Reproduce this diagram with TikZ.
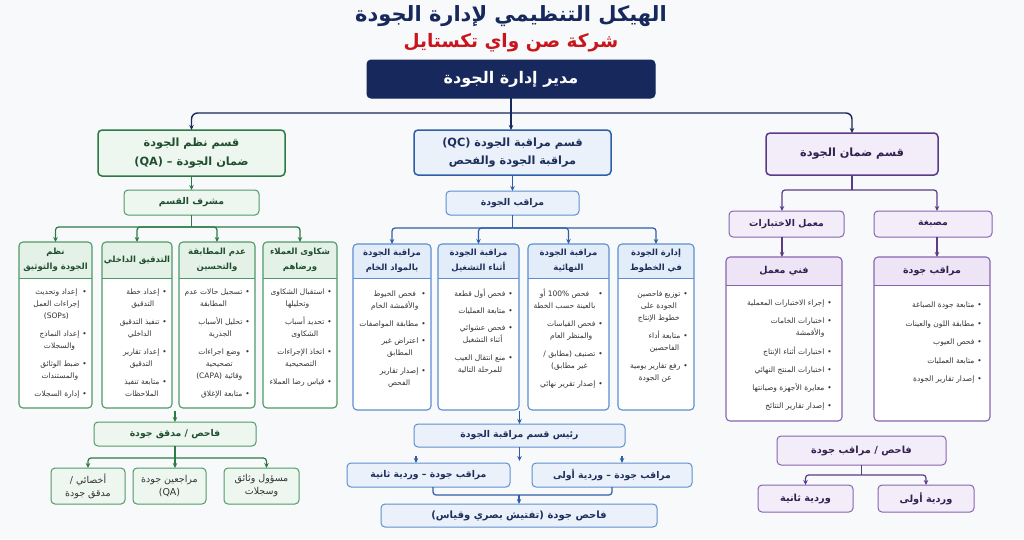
\documentclass[tikz,border=0pt]{standalone}
\usepackage{fontspec}
\setmainfont{DejaVu Sans}
\newfontfamily\ar[Script=Arabic]{DejaVu Sans}
\TeXXeTstate=1
\usetikzlibrary{arrows.meta,calc}
\definecolor{bg}{HTML}{F8F9FB}
\definecolor{navy}{HTML}{17295C}
\definecolor{subred}{HTML}{C8161D}
\definecolor{gline}{HTML}{4F9A66}
\definecolor{gdark}{HTML}{2D7A45}
\definecolor{ghdr}{HTML}{E4F1E7}
\definecolor{gfill}{HTML}{EEF6F0}
\definecolor{gtext}{HTML}{1F4F2E}
\definecolor{bline}{HTML}{5D8FD0}
\definecolor{bdark}{HTML}{2F5EA8}
\definecolor{bhdr}{HTML}{E3ECF9}
\definecolor{bfill}{HTML}{EBF1FB}
\definecolor{btext}{HTML}{1C2F5A}
\definecolor{pline}{HTML}{8A63B0}
\definecolor{pdark}{HTML}{5B3B86}
\definecolor{phdr}{HTML}{EDE4F6}
\definecolor{pfill}{HTML}{F3EDF9}
\definecolor{ptext}{HTML}{33204F}
\definecolor{body}{HTML}{333333}
\newcommand\RL[1]{\beginR #1\endR}
\newcommand\bi[1]{\begin{tabular}[t]{@{}c@{}}#1\end{tabular}\hspace{3pt}\textbullet}
\newcommand\bir[1]{\begin{tabular}[t]{@{}r@{}}#1\end{tabular}\hspace{3pt}\textbullet}
\newcommand\pbig{\fontsize{9.5}{14}\selectfont}
% column box: name, x1, y1, x2, y2, yh, theme letter, header
\newcommand\colbox[8]{%
  \fill[white, rounded corners=4pt] (#2,#3) rectangle (#4,#5);
  \begin{scope}\clip (#2,#3) rectangle (#4,#6);
    \fill[#7hdr, rounded corners=4pt] (#2,#3) rectangle (#4,#5);
  \end{scope}
  \node[draw=#7line, line width=1.1pt, rounded corners=4pt, inner sep=0pt, outer sep=0pt,
        anchor=north west, minimum width={(#4-#2)*1pt}, minimum height={(#5-#3)*1pt}] (#1) at (#2,#3) {};
  \draw[#7line, line width=0.9pt] (#2,#6) -- (#4,#6);
  \node[font=\ar\bfseries\fontsize{8.5}{15}\selectfont, text=#7text, align=center, inner sep=0pt] (#1-h) at ({(#2+#4)/2},{(#3+#6)/2}) {#8};
}
% simple box: style, name, x1, y1, x2, y2, text
\newcommand\bx[7]{%
  \node[#1, minimum width={(#5-#3)*1pt}, minimum height={(#6-#4)*1pt}] (#2) at ({(#3+#5)/2},{(#4+#6)/2}) {#7};
}
\tikzset{
  box/.style={draw, rounded corners=4pt, inner sep=0pt, outer sep=0pt, align=center, line width=1pt},
  topbox/.style={box, fill=navy, draw=navy, text=white, font=\ar\bfseries\fontsize{16}{19}\selectfont},
  dept/.style={box, line width=1.5pt, font=\ar\bfseries\fontsize{11.3}{18.5}\selectfont},
  gdept/.style={dept, fill=gfill, draw=gdark, text=gtext},
  bdept/.style={dept, fill=bfill, draw=bdark, text=btext},
  pdept/.style={dept, fill=pfill, draw=pdark, text=ptext},
  gbox/.style={box, fill=gfill, draw=gline, text=gtext, font=\ar\bfseries\fontsize{9.3}{13}\selectfont},
  bbox/.style={box, fill=bfill, draw=bline, text=btext, font=\ar\bfseries\fontsize{9.3}{13}\selectfont},
  pbox/.style={box, fill=pfill, draw=pline, text=ptext, font=\ar\bfseries\fontsize{9.3}{13}\selectfont},
  gleaf/.style={gbox, font=\ar\fontsize{9.5}{13}\selectfont, text=body},
  bodytext/.style={anchor=north east, align=right, inner sep=0pt, text=body, font=\ar\fontsize{7.5}{12}\selectfont},
  conn/.style={line width=1.2pt, rounded corners=3pt},
  tip/.style={-{Stealth[length=5pt,width=4.5pt]}},
  nconn/.style={conn, draw=navy, line width=1.4pt, rounded corners=6pt},
  gconn/.style={conn, draw=gdark},
  bconn/.style={conn, draw=bdark},
  pconn/.style={conn, draw=pdark},
}
\begin{document}
\begin{tikzpicture}[x=1pt, y=-1pt]
\useasboundingbox (0,0) rectangle (1024,539);
\fill[bg] (0,0) rectangle (1024,539);

% titles
\node[font=\ar\bfseries\fontsize{21}{24}\selectfont, text=navy] (title) at (511,16) {\RL{الهيكل التنظيمي لإدارة الجودة}};
\node[font=\ar\bfseries\fontsize{18.5}{22}\selectfont, text=subred] (subtitle) at (511,43) {\RL{شركة صن واي تكستايل}};
\bx{topbox}{top}{367}{60}{655}{98}{\RL{مدير إدارة الجودة}}

% departments
\bx{gdept}{qa}{98}{130}{285}{176}{\RL{قسم نظم الجودة}\\\RL{ضمان الجودة – (QA)}}
\bx{bdept}{qc}{414}{130}{611}{175}{\RL{قسم مراقبة الجودة (QC)}\\\RL{مراقبة الجودة والفحص}}
\bx{pdept}{pd}{766}{133}{938}{175}{\RL{قسم ضمان الجودة}}

\coordinate (j0) at (511,113);
\draw[nconn] (top.south) -- (j0);
\draw[nconn, tip] (j0) -| (qa.north);
\draw[nconn, tip] (j0) -| (pd.north);
\draw[nconn, tip] (j0) -- (j0 |- qc.north);

% ===== green (QA) =====
\bx{gbox}{sup}{124}{190}{259}{215}{\RL{مشرف القسم}}
\draw[gconn, tip] (qa.south) -- (sup.north);
\colbox{g1}{19}{242}{92}{408}{278}{g}{\RL{نظم}\\\RL{الجودة والتوثيق}}
\colbox{g2}{102}{242}{172}{408}{278}{g}{\RL{التدقيق الداخلي}}
\colbox{g3}{179}{242}{255}{408}{278}{g}{\RL{عدم المطابقة}\\\RL{والتحسين}}
\colbox{g4}{263}{242}{337}{408}{278}{g}{\RL{شكاوى العملاء}\\\RL{ورضاهم}}
\coordinate (jg1) at (191.5,227);
\draw[gconn] (sup.south) -- (jg1);
\draw[gconn, tip] (jg1) -| (g1.north);
\draw[gconn, tip] (jg1) -| (g2.north);
\draw[gconn, tip] (jg1) -| (g3.north);
\draw[gconn, tip] (jg1) -| (g4.north);

\node[bodytext] (g1-b) at (87,286) {\bi{\RL{إعداد وتحديث}\\\RL{إجراءات العمل}\\(SOPs)}\\[5pt]
  \bi{\RL{إعداد النماذج}\\\RL{والسجلات}}\\[5pt]
  \bi{\RL{ضبط الوثائق}\\\RL{والمستندات}}\\[5pt]
  \bi{\RL{إدارة السجلات}}};
\node[bodytext] (g2-b) at (167,286) {\bi{\RL{إعداد خطة}\\\RL{التدقيق}}\\[5pt]
  \bi{\RL{تنفيذ التدقيق}\\\RL{الداخلي}}\\[5pt]
  \bi{\RL{إعداد تقارير}\\\RL{التدقيق}}\\[5pt]
  \bi{\RL{متابعة تنفيذ}\\\RL{الملاحظات}}};
\node[bodytext] (g3-b) at (250,286) {\bi{\RL{تسجيل حالات عدم}\\\RL{المطابقة}}\\[5pt]
  \bi{\RL{تحليل الأسباب}\\\RL{الجذرية}}\\[5pt]
  \bi{\RL{وضع اجراءات}\\\RL{تصحيحية}\\\RL{وقائية (CAPA)}}\\[5pt]
  \bi{\RL{متابعة الإغلاق}}};
\node[bodytext] (g4-b) at (332,286) {\bi{\RL{استقبال الشكاوى}\\\RL{وتحليلها}}\\[5pt]
  \bi{\RL{تحديد أسباب}\\\RL{الشكاوى}}\\[5pt]
  \bi{\RL{اتخاذ الإجراءات}\\\RL{التصحيحية}}\\[5pt]
  \bi{\RL{قياس رضا العملاء}}};

\bx{gbox}{insp}{94}{422}{256}{446}{\RL{فاحص / مدقق جودة}}
\coordinate (gs) at (175,411);
\draw[gconn, tip] (gs) -- (gs |- insp.north);
\bx{gleaf}{r1}{51}{468}{125}{504}{\RL{أخصائي /}\\\RL{مدقق جودة}}
\bx{gleaf}{r2}{133}{468}{206}{504}{\RL{مراجعين جودة}\\(QA)}
\bx{gleaf}{r3}{224}{468}{299}{504}{\RL{مسؤول وثائق}\\\RL{وسجلات}}
\coordinate (jg2) at (175,458);
\draw[gconn] (insp.south) -- (jg2);
\draw[gconn, tip] (jg2) -| (r1.north);
\draw[gconn, tip] (jg2) -- (jg2 |- r2.north);
\draw[gconn, tip] (jg2) -| ([xshift=5pt]r3.north);

% ===== blue (QC) =====
\bx{bbox}{qcs}{446}{191}{579}{215}{\RL{مراقب الجودة}}
\draw[bconn, tip] (qc.south) -- (qc.south |- qcs.north);
\colbox{c1}{353}{244}{431}{410}{278}{b}{\RL{مراقبة الجودة}\\\RL{بالمواد الخام}}
\colbox{c2}{438}{244}{519}{410}{278}{b}{\RL{مراقبة الجودة}\\\RL{أثناء التشغيل}}
\colbox{c3}{528}{244}{609}{410}{278}{b}{\RL{مراقبة الجودة}\\\RL{النهائية}}
\colbox{c4}{618}{244}{694}{410}{278}{b}{\RL{إدارة الجودة}\\\RL{في الخطوط}}
\coordinate (jb1) at (512.5,228);
\draw[bconn] (qcs.south) -- (jb1);
\draw[bconn, tip] (jb1) -| (c1.north);
\draw[bconn, tip] (jb1) -| (c2.north);
\draw[bconn, tip] (jb1) -| (c3.north);
\draw[bconn, tip] (jb1) -| (c4.north);

\node[bodytext] (c1-b) at (426,288) {\bi{\RL{فحص الخيوط}\\\RL{والأقمشة الخام}}\\[5pt]
  \bi{\RL{مطابقة المواصفات}}\\[5pt]
  \bi{\RL{اعتراض غير}\\\RL{المطابق}}\\[5pt]
  \bi{\RL{إصدار تقارير}\\\RL{الفحص}}};
\node[bodytext] (c2-b) at (513,288) {\bi{\RL{فحص أول قطعة}}\\[5pt]
  \bi{\RL{متابعة العمليات}}\\[5pt]
  \bi{\RL{فحص عشوائي}\\\RL{أثناء التشغيل}}\\[5pt]
  \bi{\RL{منع انتقال العيب}\\\RL{للمرحلة التالية}}};
\node[bodytext] (c3-b) at (603,288) {\bi{\RL{فحص 100\% أو}\\\RL{بالعينة حسب الخطة}}\\[5pt]
  \bi{\RL{فحص القياسات}\\\RL{والمنظر العام}}\\[5pt]
  \bi{\RL{تصنيف (مطابق /}\\\RL{غير مطابق)}}\\[5pt]
  \bi{\RL{إصدار تقرير نهائي}}};
\node[bodytext] (c4-b) at (688,288) {\bi{\RL{توزيع فاحصين}\\\RL{الجودة على}\\\RL{خطوط الإنتاج}}\\[5pt]
  \bi{\RL{متابعة أداء}\\\RL{الفاحصين}}\\[5pt]
  \bi{\RL{رفع تقارير يومية}\\\RL{عن الجودة}}};

\bx{bbox}{head}{414}{424}{625}{447}{\RL{رئيس قسم مراقبة الجودة}}
\coordinate (bs) at (519.5,411);
\draw[bconn, tip] (bs) -- (bs |- head.north);
\coordinate (bfree) at (519.5,461);
\draw[bconn, tip] (head.south) -- (bfree);
\bx{bbox}{s2}{347}{463}{510}{487}{\RL{مراقب جودة – وردية ثانية}}
\bx{bbox}{s1}{532}{463}{692}{487}{\RL{مراقب جودة – وردية أولى}}
\coordinate (st2) at (416,456);
\coordinate (st1) at (622,456);
\draw[bconn, tip] (st2) -- (st2 |- s2.north);
\draw[bconn, tip] (st1) -- (st1 |- s1.north);
\bx{bbox}{fin}{381}{504}{657}{527}{\fontsize{10}{13}\selectfont\RL{فاحص جودة (تفتيش بصري وقياس)}}
\coordinate (jb3) at (519,495);
\draw[bconn] ([xshift=4.5pt]s2.south) |- (s1.south |- jb3) -- (s1.south);
\draw[bconn, tip] (jb3) -- (jb3 |- fin.north);

% ===== purple =====
\bx{pbox}{lab}{729}{211}{844}{237}{\RL{معمل الاختبارات}}
\bx{pbox}{dye}{874}{211}{992}{237}{\RL{مصبغة}}
\coordinate (jp1) at (852,190);
\draw[pconn] (pd.south) -- (jp1);
\draw[pconn, tip] (jp1) -| ([xshift=-4.5pt]lab.north);
\draw[pconn, tip] (jp1) -| ([xshift=4pt]dye.north);
\colbox{tech}{726}{257}{842}{421}{285}{p}{\pbig\RL{فني معمل}}
\colbox{qm}{874}{257}{990}{421}{285}{p}{\pbig\RL{مراقب جودة}}
\draw[pconn, tip] ([xshift=-4.5pt]lab.south) -- ([xshift=-4.5pt]lab.south |- tech.north);
\draw[pconn, tip] ([xshift=4pt]dye.south) -- ([xshift=4pt]dye.south |- qm.north);

\node[bodytext] (tech-b) at (832,297) {\bir{\RL{إجراء الاختبارات المعملية}}\\[6pt]
  \bir{\RL{اختبارات الخامات}\\\RL{والأقمشة}}\\[6pt]
  \bir{\RL{اختبارات أثناء الإنتاج}}\\[6pt]
  \bir{\RL{اختبارات المنتج النهائي}}\\[6pt]
  \bir{\RL{معايرة الأجهزة وصيانتها}}\\[6pt]
  \bir{\RL{إصدار تقارير النتائج}}};
\node[bodytext] (qm-b) at (982,299) {\bir{\RL{متابعة جودة الصباغة}}\\[6.5pt]
  \bir{\RL{مطابقة اللون والعينات}}\\[6.5pt]
  \bir{\RL{فحص العيوب}}\\[6.5pt]
  \bir{\RL{متابعة العمليات}}\\[6.5pt]
  \bir{\RL{إصدار تقارير الجودة}}};

\bx{pbox}{pi}{777}{436}{946}{465}{\fontsize{9.8}{13}\selectfont\RL{فاحص / مراقب جودة}}
\bx{pbox}{w2}{758}{485}{853}{512}{\fontsize{9.8}{13}\selectfont\RL{وردية ثانية}}
\bx{pbox}{w1}{878}{485}{974}{512}{\fontsize{9.8}{13}\selectfont\RL{وردية أولى}}
\coordinate (jp2) at (861.5,475);
\draw[pconn] (pi.south) -- (jp2);
\draw[pconn, tip] (jp2) -| (w2.north);
\draw[pconn, tip] (jp2) -| (w1.north);
\end{tikzpicture}
\end{document}
